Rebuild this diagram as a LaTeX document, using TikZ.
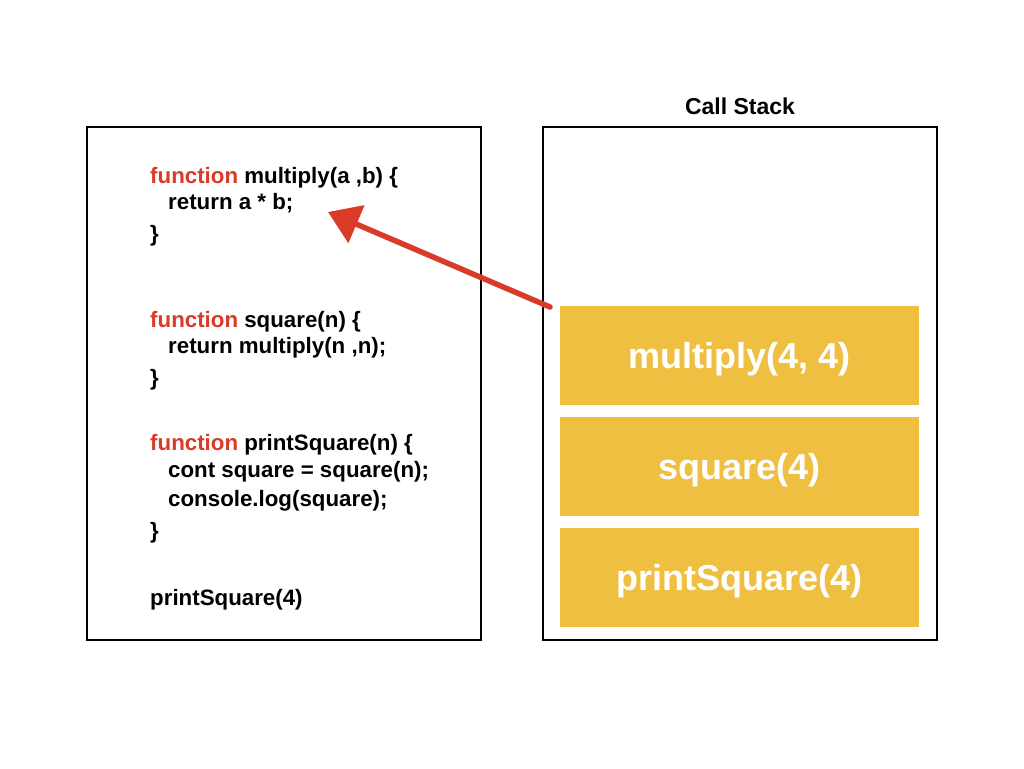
\documentclass[tikz,border=0pt]{standalone}
\usepackage{fontspec}
\setmainfont{Liberation Sans}
\usetikzlibrary{arrows.meta}
\definecolor{stackyellow}{HTML}{EFBF42}
\definecolor{kwred}{HTML}{DA3A28}
\begin{document}
\begin{tikzpicture}[x=1pt,y=-1pt,
  panel/.style={draw=black,line width=2.2pt},
  frame/.style={fill=stackyellow,draw=none,minimum width=359pt,minimum height=99pt,inner sep=0pt,
     text height=28pt,text depth=2pt,
     text=white,font=\fontsize{36}{42}\selectfont\bfseries},
  code/.style={anchor=base west,inner sep=0pt,font=\fontsize{22.3}{26}\selectfont\bfseries}]
\useasboundingbox (0,0) rectangle (1024,768);
\draw[panel] (87,127) rectangle (481,640);
\draw[panel] (543,127) rectangle (937,640);
\node[font=\fontsize{23}{27}\selectfont\bfseries,anchor=base] (title) at (740,114) {Call Stack};
\node[frame,anchor=north west] (mult) at (560,306) {multiply(4, 4)};
\node[frame,anchor=north west] (sq) at (560,417) {square(4)};
\node[frame,anchor=north west] (ps) at (560,528) {printSquare(4)};
\node[code] (l1) at (150,183) {\textcolor{kwred}{function} multiply(a ,b) \{};
\node[code] (l2) at (168,209) {return a * b;};
\node[code] (l3) at (150,241) {\}};
\node[code] (l4) at (150,327) {\textcolor{kwred}{function} square(n) \{};
\node[code] (l5) at (168,353) {return multiply(n ,n);};
\node[code] (l6) at (150,385) {\}};
\node[code] (l7) at (150,450) {\textcolor{kwred}{function} printSquare(n) \{};
\node[code] (l8) at (168,477) {cont square = square(n);};
\node[code] (l9) at (168,506) {console.log(square);};
\node[code] (l10) at (150,538) {\}};
\node[code] (l11) at (150,605) {printSquare(4)};
\coordinate (from) at (550,307);
\coordinate (to) at (328,212);
\draw[kwred,line width=5.5pt,line cap=round,-{Triangle[length=31pt,width=40pt]}] (from) -- (to);
\end{tikzpicture}
\end{document}
